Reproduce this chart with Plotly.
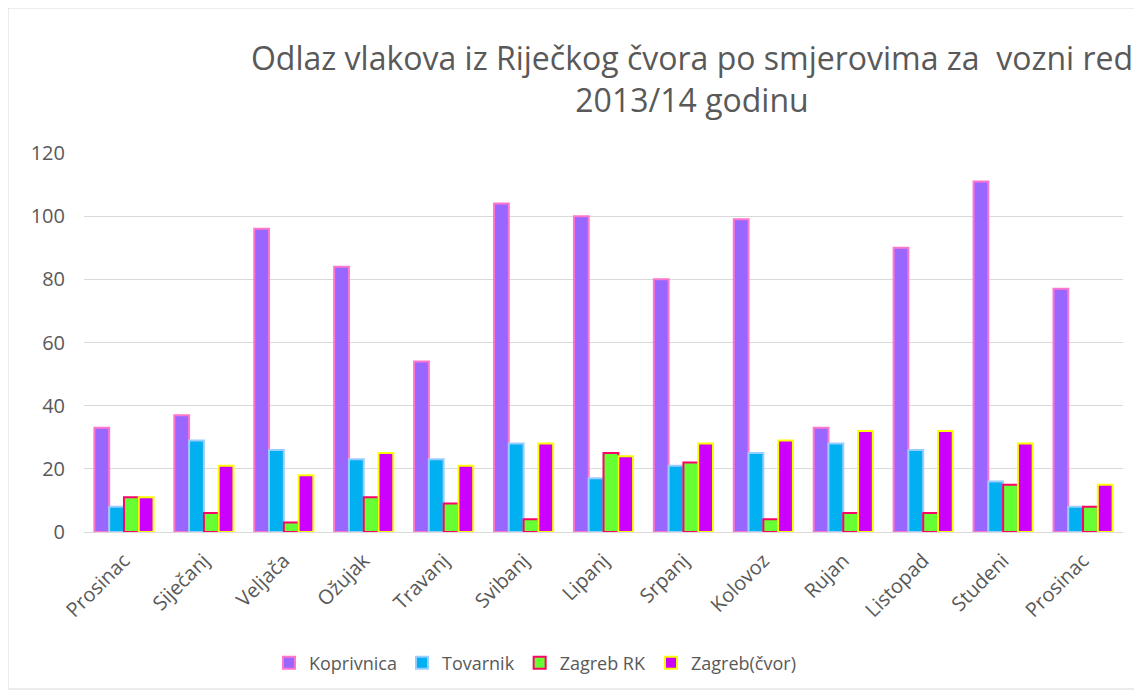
import plotly.graph_objects as go

categories = ["Prosinac", "Siječanj", "Veljača", "Ožujak", "Travanj", "Svibanj", "Lipanj",
              "Srpanj", "Kolovoz", "Rujan", "Listopad", "Studeni", "Prosinac"]
koprivnica = [33, 37, 96, 84, 54, 104, 100, 80, 99, 33, 90, 111, 77]
tovarnik = [8, 29, 26, 23, 23, 28, 17, 21, 25, 28, 26, 16, 8]
zagreb_rk = [11, 6, 3, 11, 9, 4, 25, 22, 4, 6, 6, 15, 8]
zagreb_cvor = [11, 21, 18, 25, 21, 28, 24, 28, 29, 32, 32, 28, 15]
y_ticks = [0, 20, 40, 60, 80, 100, 120]

series = [
    ("Koprivnica", koprivnica, "#9966FF", "#FF77CC"),
    ("Tovarnik", tovarnik, "#00B0F0", "#99CCFF"),
    ("Zagreb RK", zagreb_rk, "#66FF33", "#FF0066"),
    ("Zagreb(čvor)", zagreb_cvor, "#CC00FF", "#FFFF00"),
]

x = list(range(len(categories)))
fig = go.Figure()
for name, vals, fill, line in series:
    fig.add_trace(go.Bar(x=x, y=vals, name=name,
                         marker=dict(color=fill, line=dict(color=line, width=2))))

# page body has an 8px margin; work in screen coordinates minus 8
OFF = 8
W, H = 1142 - OFF, 697 - OFF
L = 84 - OFF
T = 153 - OFF
R = W - (1123 - OFF)
B = H - (532 - OFF)
pw, ph = W - L - R, H - T - B

def px(xs):
    return (xs - OFF - L) / pw

def py(ys):
    return (H - B - (ys - OFF)) / ph

fig.update_layout(
    width=W, height=H,
    margin=dict(l=L, r=R, t=T, b=B),
    paper_bgcolor="white", plot_bgcolor="white",
    font=dict(family="Open Sans, Calibri, sans-serif", color="#595959", size=17),
    title=dict(text="Odlaz vlakova iz Riječkog čvora po smjerovima za  vozni red<br>2013/14 godinu",
               x=(692 - OFF) / W, xref="container", xanchor="center",
               y=1 - (70 - OFF) / H, yref="container", yanchor="middle",
               font=dict(size=32, color="#595959")),
    barmode="group", bargap=0.26, bargroupgap=0.0,
    xaxis=dict(tickmode="array", tickvals=x, ticktext=categories, tickangle=-45,
               range=[-0.5, len(categories) - 0.5], showgrid=False,
               showline=True, linecolor="#D9D9D9", linewidth=1, ticks="",
               ticklabelstandoff=8,
               tickfont=dict(size=20, color="#595959")),
    yaxis=dict(range=[0, 120], tickvals=y_ticks, showgrid=True, gridcolor="#D9D9D9",
               gridwidth=1, zeroline=False, ticks="", ticklabelstandoff=18,
               tickfont=dict(size=20, color="#595959")),
    legend=dict(orientation="h", x=(535 - OFF) / W, xanchor="center", xref="container",
                y=1 - (663 - OFF) / H, yref="container", yanchor="middle",
                font=dict(size=18, color="#595959"), itemwidth=30),
    shapes=[dict(type="rect", xref="paper", yref="paper",
                 x0=px(8), x1=px(1140), y0=py(689), y1=py(8),
                 line=dict(color="#D9D9D9", width=1), fillcolor="rgba(0,0,0,0)", layer="below")],
)

fig.write_html("out.html")
